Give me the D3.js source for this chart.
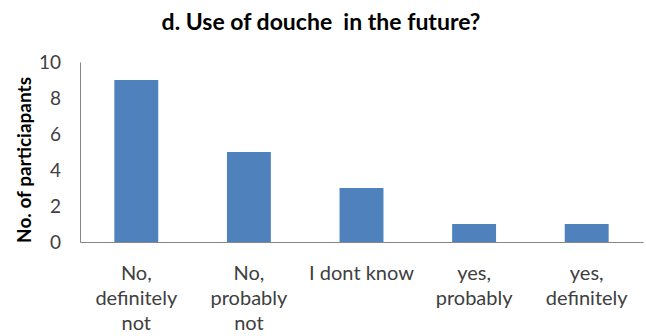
<!DOCTYPE html>
<html><head><meta charset="utf-8">
<script src="https://cdn.jsdelivr.net/npm/d3@7"></script>
<style>body{margin:0;background:#fff;}svg{display:block;font-family:Lato,"Open Sans",sans-serif;}</style>
</head><body><svg id="c" width="646" height="336"></svg>
<script>
const categories = [["No,","definitely","not"],["No,","probably","not"],["I dont know"],["yes,","probably"],["yes,","definitely"]];
const values = [9,5,3,1,1];
const yTicks = [0,2,4,6,8,10];
const title = "d. Use of douche  in the future?";
const yTitle = "No. of particiapants";

const svg = d3.select("#c");
const m = {left:80, right:3, top:62, bottom:94};
const W = 646, H = 336;
const keys = categories.map((c,i)=>i);
const x = d3.scaleBand().domain(keys).range([m.left, W-m.right]).paddingInner(0.61).paddingOuter(0.305);
const y = d3.scaleLinear().domain([0,10]).range([H-m.bottom, m.top]);

svg.append("g").selectAll("rect").data(values).join("rect")
  .attr("x",(d,i)=>x(i)).attr("width",x.bandwidth())
  .attr("y",d=>y(d)).attr("height",d=>y(0)-y(d)).attr("fill","#4F81BD");

const ya = svg.append("g").attr("transform",`translate(${m.left},0)`)
  .call(d3.axisLeft(y).tickValues(yTicks).tickSize(0).tickPadding(19));
ya.select(".domain").attr("stroke","#868686");
ya.selectAll("text").attr("font-size",19).attr("fill","#404040").attr("font-family","Lato,'Open Sans',sans-serif");

const xa = svg.append("g").attr("transform",`translate(0,${y(0)})`)
  .call(d3.axisBottom(x).tickSize(0).tickFormat(""));
xa.select(".domain").attr("stroke","#868686");
xa.selectAll(".tick").each(function(d){
  const t = d3.select(this).append("text").attr("fill","#404040").attr("font-size",20)
    .attr("text-anchor","middle").attr("font-family","Lato,'Open Sans',sans-serif");
  categories[d].forEach((line,j)=>t.append("tspan").attr("x",0).attr("y",38+j*25).text(line));
});

svg.append("text").attr("x",321).attr("y",30).attr("text-anchor","middle").style("white-space","pre")
  .attr("font-size",23).attr("font-weight","bold").attr("fill","#000").text(title);
svg.append("text").attr("transform",`translate(31,${(y(0)+y(10))/2 + 8}) rotate(-90)`)
  .attr("text-anchor","middle").attr("font-size",19).attr("font-weight","bold").attr("fill","#000").text(yTitle);
</script></body></html>
